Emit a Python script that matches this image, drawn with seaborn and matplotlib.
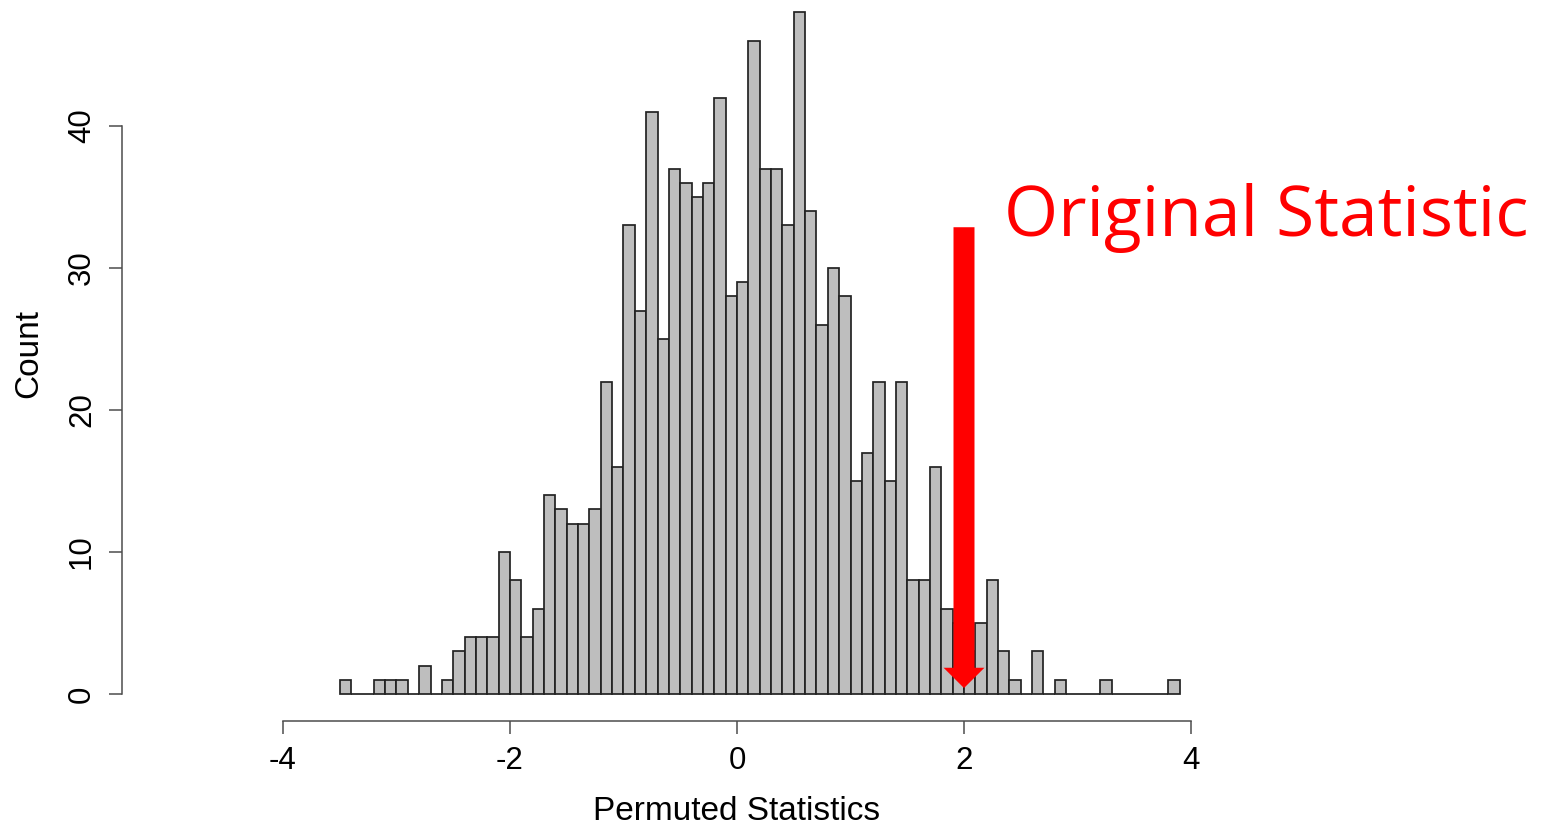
import numpy as np
import pandas as pd
import matplotlib
matplotlib.use('Agg')
import matplotlib.pyplot as plt
import seaborn as sns

## permutation histogram, bins of width 0.1 starting at -3.5
bin_start = -3.5
bin_width = 0.1
counts = [1, 0, 0, 1, 1, 1, 0, 2, 0, 1,       # -3.5 .. -2.6
          3, 4, 4, 4, 10, 8, 4, 6, 14, 13,    # -2.5 .. -1.6
          12, 12, 13, 22, 16, 33, 27, 41, 25, 37,   # -1.5 .. -0.6
          36, 35, 36, 42, 28, 29, 46, 37, 37, 33,   # -0.5 .. 0.4
          48, 34, 26, 30, 28, 15, 17, 22, 15, 22,   # 0.5 .. 1.4
          8, 8, 16, 6, 5, 3, 5, 8, 3, 1,      # 1.5 .. 2.4
          0, 3, 0, 1, 0, 0, 0, 1, 0, 0,       # 2.5 .. 3.4
          0, 0, 0, 1]                         # 3.5 .. 3.8
original_stat = 2.0
x_ticks = [-4, -2, 0, 2, 4]
y_ticks = [0, 10, 20, 30, 40]

centers = bin_start + bin_width * (np.arange(len(counts)) + 0.5)
df = pd.DataFrame({'stat': centers, 'n': counts})
bin_end = bin_start + bin_width * len(counts)

sns.set_style('white')
plt.rcParams['font.family'] = ['Liberation Sans', 'DejaVu Sans']
plt.rcParams['axes.unicode_minus'] = False

fig = plt.figure(figsize=(15.47, 8.33), dpi=100)
ax = fig.add_axes([122 / 1547, 0.1341, (1352 - 122) / 1547, 0.8838])

sns.histplot(data=df, x='stat', weights='n', binwidth=bin_width,
             binrange=(bin_start, bin_end), ax=ax,
             color='#bebebe', alpha=1, edgecolor='#222222', linewidth=1.25)

ax.set_xlim(-5.4185, 5.4185)
ax.set_ylim(-1.92, 49.92)

# R style detached axes
for s in ['top', 'right']:
    ax.spines[s].set_visible(False)
ax.spines['left'].set_bounds(0, 40)
ax.spines['bottom'].set_bounds(-4, 4)
for s in ['left', 'bottom']:
    ax.spines[s].set_color('#4d4d4d')
    ax.spines[s].set_linewidth(1.1)

ax.set_xticks(x_ticks)
ax.set_yticks(y_ticks)
ax.set_yticklabels([str(v) for v in y_ticks], rotation=90, va='center')
ax.tick_params(axis='both', bottom=True, left=True, length=9.5, width=1.1,
               color='#4d4d4d', labelsize=22.5, labelcolor='black')
ax.tick_params(axis='x', pad=8.5)
ax.tick_params(axis='y', pad=8.5)

ax.set_xlabel('Permuted Statistics', fontsize=24, labelpad=14.5, color='black')
ax.set_ylabel('Count', fontsize=24, labelpad=16.5, color='black')

# red arrow pointing at the observed statistic
ax.arrow(original_stat, 32.87, 0, 0.42 - 32.87, width=0.185, head_width=0.36,
         head_length=1.43, length_includes_head=True, color='#ff0000',
         linewidth=0, zorder=5)
ax.text(2.355, 32.27, 'Original Statistic', color='#ff0000', fontsize=50,
        family=['Open Sans', 'DejaVu Sans'], va='baseline', ha='left')

fig.savefig('out.png', dpi=100)
